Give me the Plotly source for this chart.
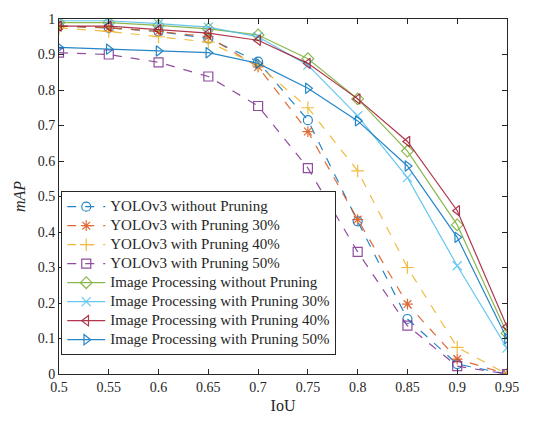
import plotly.graph_objects as go

iou = [0.5, 0.55, 0.6, 0.65, 0.7, 0.75, 0.8, 0.85, 0.9, 0.95]

yolo_0 = [0.98, 0.975, 0.965, 0.945, 0.88, 0.715, 0.43, 0.155, 0.028, 0.0]
yolo_30 = [0.98, 0.975, 0.965, 0.95, 0.865, 0.683, 0.435, 0.197, 0.042, 0.0]
yolo_40 = [0.975, 0.965, 0.95, 0.935, 0.87, 0.75, 0.572, 0.30, 0.075, 0.0]
yolo_50 = [0.905, 0.9, 0.878, 0.838, 0.755, 0.58, 0.344, 0.136, 0.022, 0.0]
ip_0 = [0.99, 0.99, 0.982, 0.972, 0.955, 0.888, 0.775, 0.628, 0.42, 0.115]
ip_30 = [0.995, 0.995, 0.987, 0.977, 0.95, 0.87, 0.727, 0.553, 0.305, 0.073]
ip_40 = [0.98, 0.98, 0.97, 0.96, 0.94, 0.875, 0.775, 0.655, 0.46, 0.133]
ip_50 = [0.92, 0.915, 0.91, 0.905, 0.875, 0.805, 0.713, 0.586, 0.385, 0.10]

names = [
    "YOLOv3 without Pruning",
    "YOLOv3 with Pruning 30%",
    "YOLOv3 with Pruning 40%",
    "YOLOv3 with Pruning 50%",
    "Image Processing without Pruning",
    "Image Processing with Pruning 30%",
    "Image Processing with Pruning 40%",
    "Image Processing with Pruning 50%",
]
series = [yolo_0, yolo_30, yolo_40, yolo_50, ip_0, ip_30, ip_40, ip_50]
colors = ["#0072BD", "#D95319", "#EDB120", "#7E2F8E", "#77AC30", "#4DBEEE", "#A2142F", "#0072BD"]
symbols = ["circle-open", "asterisk-open", "cross-thin-open", "square-open",
           "diamond-open", "x-thin-open", "triangle-left-open", "triangle-right-open"]
dashes = ["dash", "dash", "dash", "dash", "solid", "solid", "solid", "solid"]

fig = go.Figure()
for name, ys, c, s, d in zip(names, series, colors, symbols, dashes):
    fig.add_trace(go.Scatter(
        x=iou, y=ys, name="<span style='font-size:15px'>" + name + "</span>",
        mode="lines+markers",
        line=dict(color=c, width=1.2, dash=d),
        marker=dict(symbol=s, size=9, color=c, line=dict(color=c, width=1.2)),
        opacity=0.85,
    ))

font = "Liberation Serif"
fig.update_layout(
    width=534, height=424,
    margin=dict(l=59, r=27, t=15, b=49),
    paper_bgcolor="white", plot_bgcolor="white",
    font=dict(family=font, size=14, color="#262626"),
    showlegend=True,
    legend=dict(
        x=0.005, y=0.053, xanchor="left", yanchor="bottom",
        bgcolor="white", bordercolor="#262626", borderwidth=1,
        font=dict(family=font, size=11, color="#262626"),
        tracegroupgap=0, itemwidth=38,
    ),
)
fig.update_xaxes(
    range=[0.5, 0.95], tickvals=iou,
    ticktext=["0.5", "0.55", "0.6", "0.65", "0.7", "0.75", "0.8", "0.85", "0.9", "0.95"],
    showgrid=False, zeroline=False,
    showline=True, linecolor="#262626", linewidth=1, mirror="allticks",
    ticks="inside", ticklen=5, tickcolor="#262626",
    title=dict(text="IoU", font=dict(family=font, size=16), standoff=6),
    tickfont=dict(family=font, size=14),
)
fig.update_yaxes(
    range=[0, 1], tickvals=[0, 0.1, 0.2, 0.3, 0.4, 0.5, 0.6, 0.7, 0.8, 0.9, 1],
    ticktext=["0", "0.1", "0.2", "0.3", "0.4", "0.5", "0.6", "0.7", "0.8", "0.9", "1"],
    showgrid=False, zeroline=False,
    showline=True, linecolor="#262626", linewidth=1, mirror="allticks",
    ticks="inside", ticklen=5, tickcolor="#262626",
    title=dict(text="<i>mAP</i>", font=dict(family=font, size=16), standoff=8),
    tickfont=dict(family=font, size=14),
)

fig.write_html("out.html")
